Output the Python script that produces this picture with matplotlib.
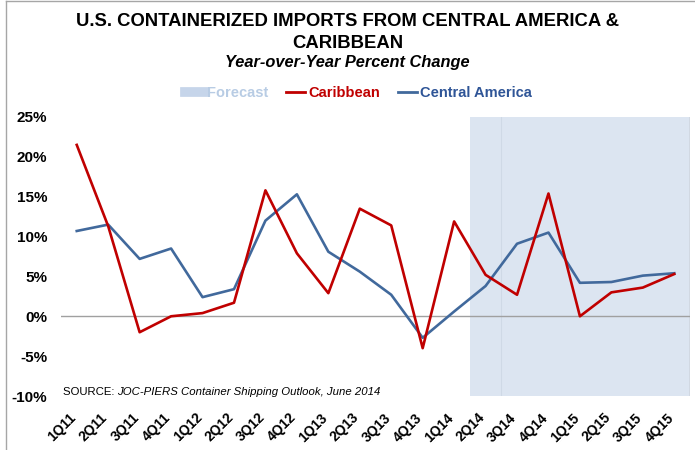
import matplotlib
matplotlib.use("Agg")
import matplotlib.pyplot as plt
import matplotlib.transforms as mtransforms
from matplotlib.lines import Line2D

plt.rcParams['font.family'] = ['Liberation Sans', 'DejaVu Sans']

quarters = ['1Q11', '2Q11', '3Q11', '4Q11', '1Q12', '2Q12', '3Q12', '4Q12',
            '1Q13', '2Q13', '3Q13', '4Q13', '1Q14', '2Q14', '3Q14', '4Q14',
            '1Q15', '2Q15', '3Q15', '4Q15']
caribbean = [21.5, 11.3, -2.0, 0.0, 0.4, 1.7, 15.8, 7.9,
             2.9, 13.5, 11.4, -4.0, 11.9, 5.2, 2.7, 15.4,
             0.0, 3.0, 3.6, 5.3]
central_america = [10.7, 11.5, 7.2, 8.5, 2.4, 3.4, 12.0, 15.3,
                   8.1, 5.6, 2.7, -2.7, 0.6, 3.8, 9.1, 10.5,
                   4.2, 4.3, 5.1, 5.4]
forecast_start = '2Q14'

red = '#c00000'
blue = '#41699c'
shade = '#dce5f1'

fig = plt.figure(figsize=(6.95, 4.5), dpi=100)
ax = fig.add_axes([0.0878, 0.12, 0.905, 0.62])

x = list(range(len(quarters)))
i0 = quarters.index(forecast_start)
ax.axvspan(i0 - 0.5, len(quarters) - 0.5, color=shade, lw=0, zorder=0)
ax.axvline(i0 + 0.5, color='#cfd9e6', lw=0.8, zorder=0.5)
ax.axvline(len(quarters) - 0.5, color='#a6a6a6', lw=1, zorder=0.5)
ax.axhline(0, color='#a0a0a0', lw=1, zorder=1)

ax.plot(x, caribbean, color=red, lw=1.9, zorder=3)
ax.plot(x, central_america, color=blue, lw=1.9, zorder=2)

ax.set_xlim(-0.5, len(quarters) - 0.5)
ax.set_ylim(-10, 25)
ax.set_yticks(range(-10, 26, 5))
ax.set_yticklabels([f'{v}%' for v in range(-10, 26, 5)], fontsize=11, fontweight='bold')
ax.set_xticks(x)
ax.set_xticklabels(quarters, rotation=45, ha='right', va='center',
                   rotation_mode='anchor', fontsize=10, fontweight='bold')
ax.tick_params(length=0)
ax.tick_params(axis='y', pad=10)
ax.tick_params(axis='x', pad=14)
for s in ax.spines.values():
    s.set_visible(False)

# nudge the slanted quarter labels a little to the left
shift = mtransforms.ScaledTranslation(-2 / 72, 0, fig.dpi_scale_trans)
for lbl in ax.get_xticklabels():
    lbl.set_transform(lbl.get_transform() + shift)

# title block
fig.text(0.5, 1 - 21 / 450, 'U.S. CONTAINERIZED IMPORTS FROM CENTRAL AMERICA &',
         ha='center', va='center', fontsize=13.3, fontweight='bold')
fig.text(0.5, 1 - 43 / 450, 'CARIBBEAN',
         ha='center', va='center', fontsize=13.3, fontweight='bold')
fig.text(0.5, 1 - 62.5 / 450, 'Year-over-Year Percent Change',
         ha='center', va='center', fontsize=11.8, fontweight='bold', style='italic')

handles = [Line2D([], [], color='#c6d5ea', lw=7),
           Line2D([], [], color=red, lw=2),
           Line2D([], [], color=blue, lw=2)]
fig.legend(handles, ['Forecast', 'Caribbean', 'Central America'],
           loc='center', bbox_to_anchor=(0.5 + 11 / 695, 1 - 93 / 450), ncol=3,
           frameon=False, handlelength=1.3, handletextpad=0.25,
           columnspacing=1.2, labelcolor=['#b8cce4', red, '#2f5597'],
           prop={'size': 10.5, 'weight': 'bold'})

src = ax.text(-0.45, -9.9, 'SOURCE: ', fontsize=8.2, va='baseline')
ax.annotate('JOC-PIERS Container Shipping Outlook, June 2014', xy=(1, 0),
            xycoords=src, va='bottom', fontsize=8.2, style='italic')

# outer frame
fig.add_artist(Line2D([6 / 695, 6 / 695], [0, 1 - 1 / 450], color='#a6a6a6', lw=1))
fig.add_artist(Line2D([6 / 695, 1], [1 - 1 / 450, 1 - 1 / 450], color='#a6a6a6', lw=1))

fig.savefig('out.png', dpi=100)
